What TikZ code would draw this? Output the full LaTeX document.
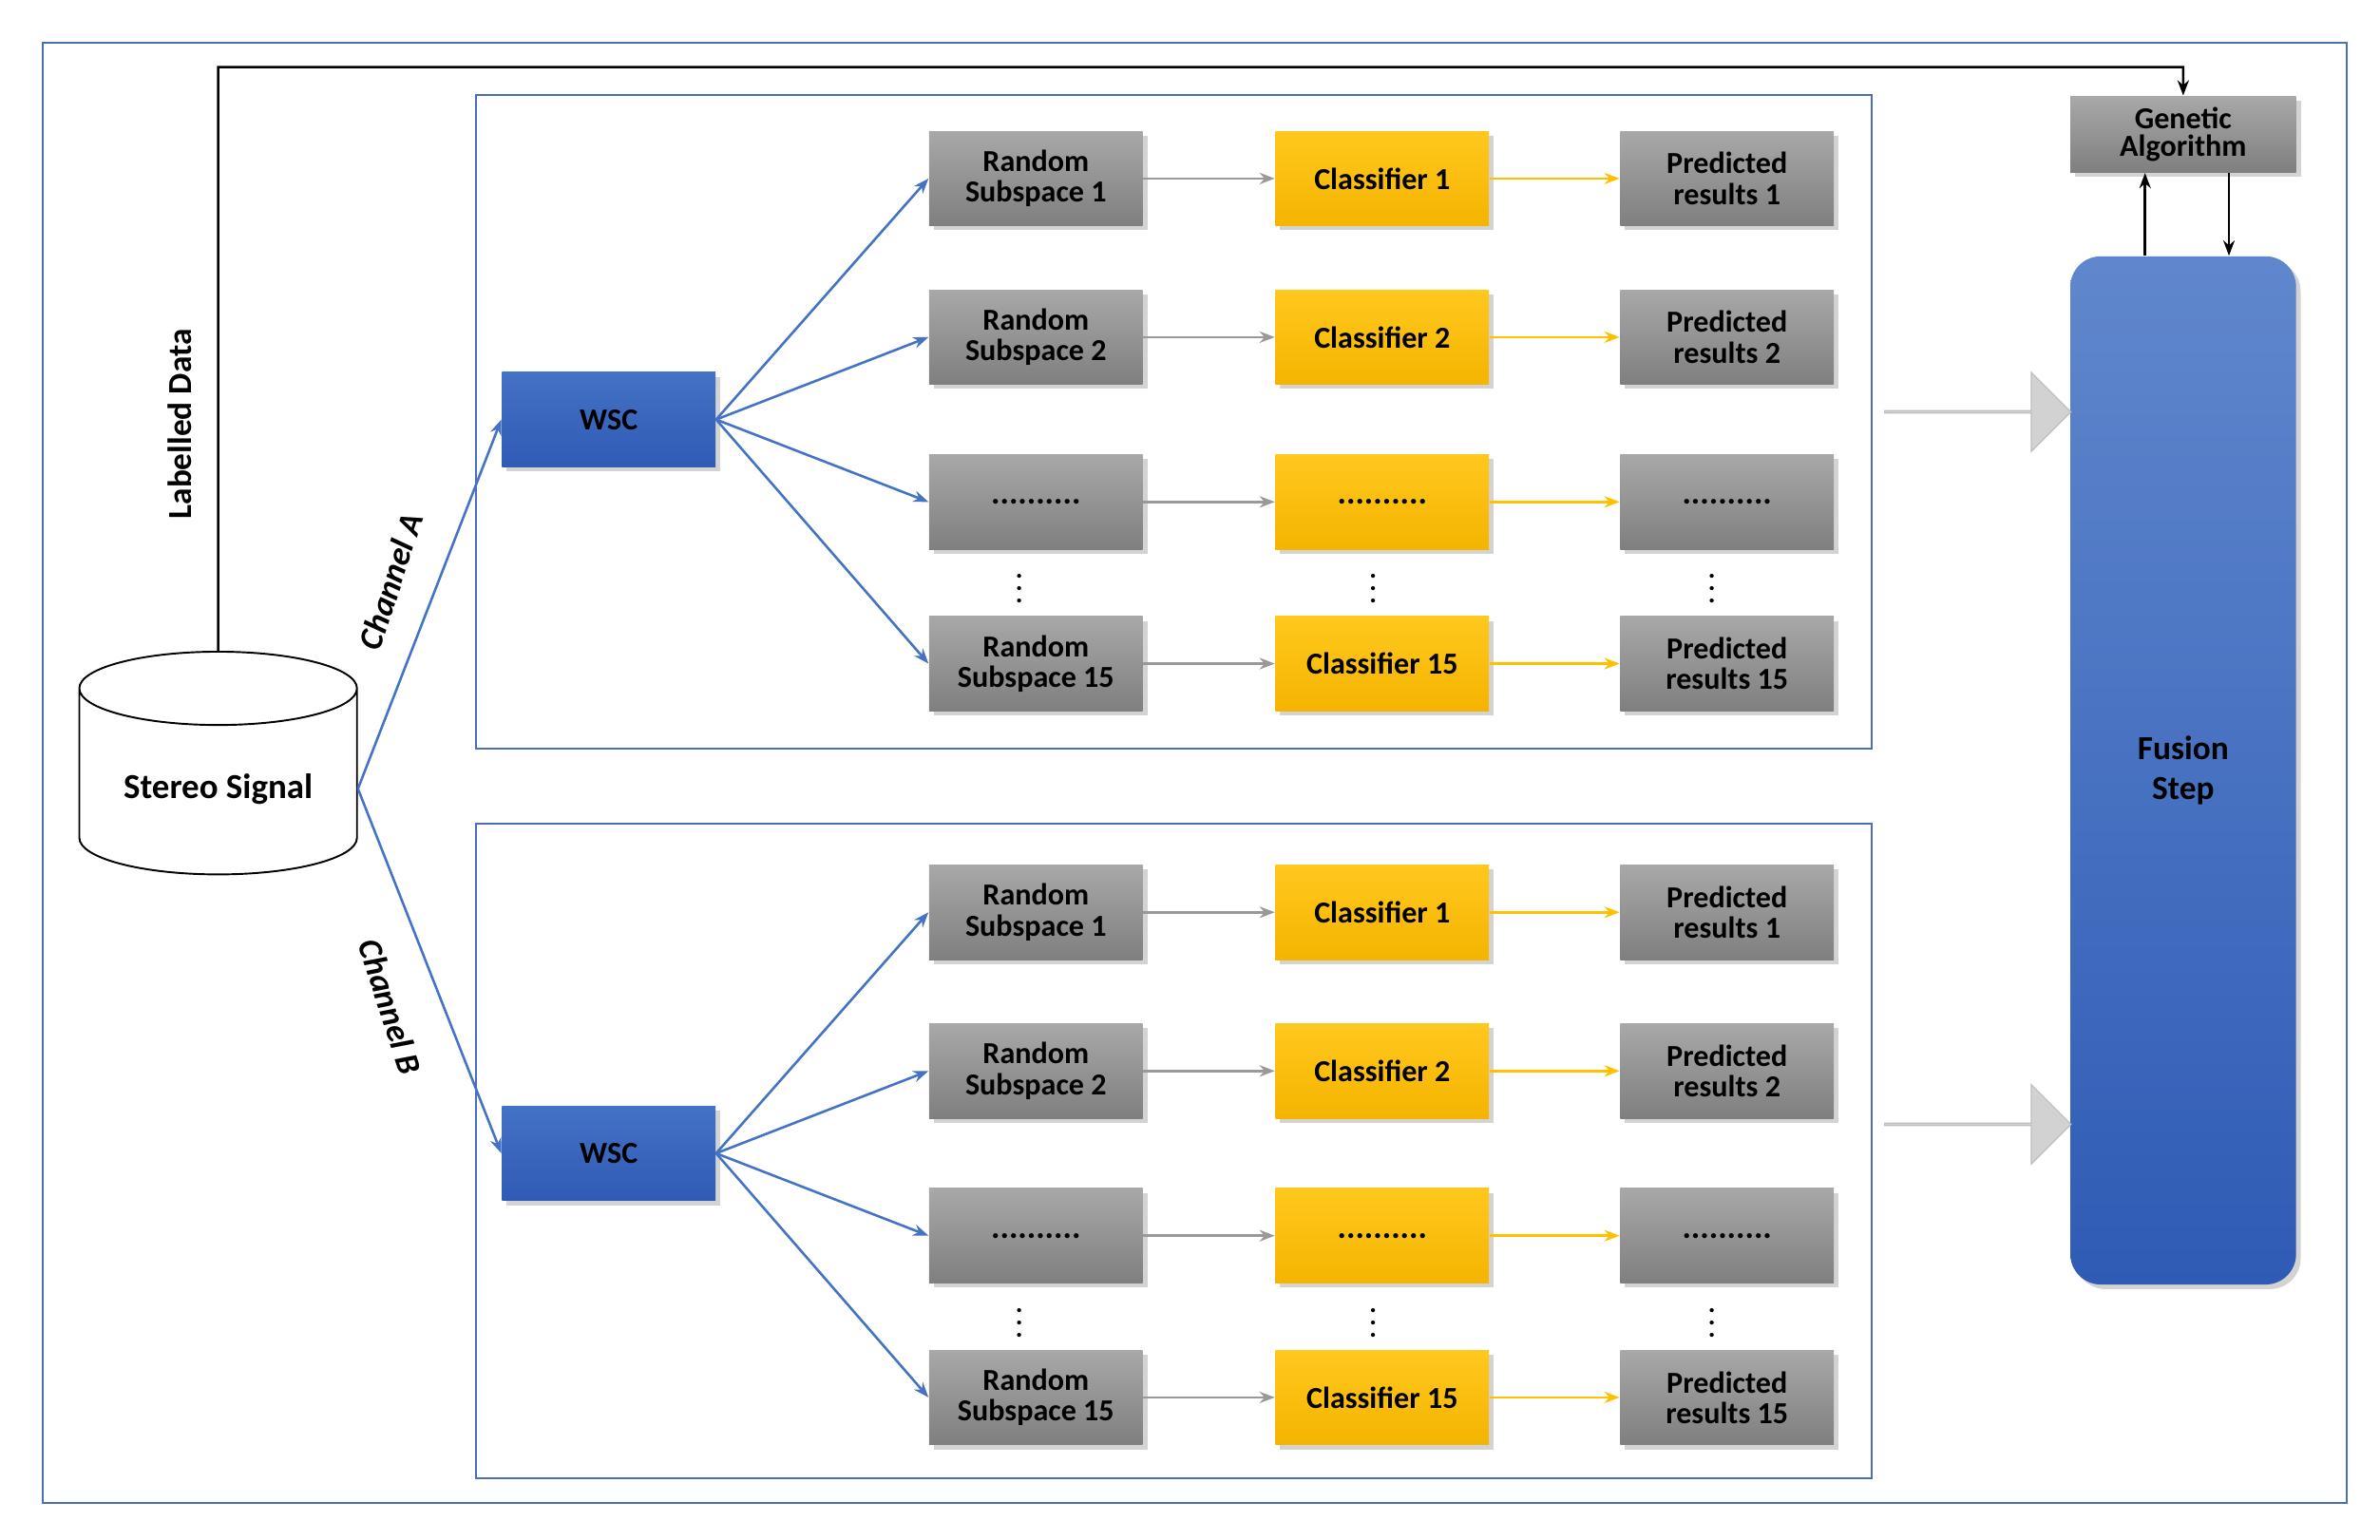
\documentclass[tikz,border=0pt]{standalone}
\usepackage{fontspec}
\setmainfont{Carlito}
\usetikzlibrary{shapes.geometric,arrows.meta,shadows,shapes.arrows}
\definecolor{frameblue}{HTML}{4A6FB5}
\definecolor{gtop}{HTML}{A8A8A8}
\definecolor{gbot}{HTML}{7F7F7F}
\definecolor{ytop}{HTML}{FFC81E}
\definecolor{ybot}{HTML}{F5B400}
\definecolor{btop}{HTML}{4472C4}
\definecolor{bbot}{HTML}{2F5BB5}
\definecolor{arrblue}{HTML}{4472C4}
\definecolor{arrorange}{HTML}{FFC000}
\newcommand\mydots{\textbf{\fontsize{11}{12}\selectfont ..........}}
\newcommand\myrs[1]{Random\\[-2pt]Subspace #1}
\newcommand\mypr[1]{Predicted\\[-2pt]results #1}
\begin{document}
\begin{tikzpicture}[x=0.5pt,y=-0.5pt,
 box/.style={minimum width=70pt,minimum height=31pt,inner sep=1pt,align=center,
   font=\bfseries\fontsize{10}{12}\selectfont,drop shadow={shadow xshift=1.5pt,shadow yshift=-1.5pt,opacity=0.35}},
 gbox/.style={box,top color=gtop,bottom color=gbot,text=black},
 ybox/.style={box,top color=ytop,bottom color=ybot,text=black},
 wsc/.style={box,top color=btop,bottom color=bbot,text=black},
 ba/.style={-{Stealth[length=5pt]},arrblue,line width=0.8pt},
 ga/.style={-{Stealth[length=5pt]},gray!80,line width=0.8pt},
 oa/.style={-{Stealth[length=5pt]},arrorange,line width=0.8pt},
 ka/.style={-{Stealth[length=5pt]},black,line width=0.8pt},
 lbl/.style={font=\bfseries\fontsize{11}{12}\selectfont}]
\useasboundingbox (0,0) rectangle (1560,1009);
\draw[frameblue,line width=0.7pt] (28,28) rectangle (1538,985);
\draw[frameblue,line width=0.6pt] (312,62) rectangle (1227,491);
\draw[frameblue,line width=0.6pt] (312,540) rectangle (1227,969);
% cylinder
\node[cylinder,shape border rotate=90,draw,fill=white,minimum width=91pt,minimum height=73pt,aspect=0.35,
  line width=0.6pt,font=\bfseries\fontsize{11.5}{13}\selectfont] (cyl) at (143,517) {\raisebox{-6pt}{Stereo Signal}};
\node[lbl,rotate=90] (ld) at (118,278) {Labelled Data};
% GA and fusion
\node[gbox,minimum width=74pt,minimum height=25pt] (ga) at (1431,88) {Genetic\\[-3pt]Algorithm};
\node[wsc,rounded corners=10pt,minimum width=74pt,minimum height=337pt,top color=btop!85!white,bottom color=bbot,
  font=\bfseries\fontsize{11}{13}\selectfont] (fus) at (1431,505) {Fusion\\Step};
\coordinate (ldtop) at (143,44);
\draw[ka] (cyl.north) -- (ldtop) -| (ga.north);
\draw[ka] (fus.north -| 1406,0) -- (ga.south -| 1406,0);
\draw[ka] (ga.south -| 1461,0) -- (fus.north -| 1461,0);
\foreach \y in {270,737}{
 \node[single arrow,draw=gray!50,fill=gray!35,minimum height=61pt,minimum width=26pt,single arrow head extend=6.5pt,
   single arrow head indent=0pt,inner sep=0pt] at (1296,\y) {};}
% channels
\foreach \c/\dy in {A/0,B/481}{
 \node[wsc,minimum height=31pt] (wsc\c) at (399,275+\dy) {WSC};
 \foreach \i/\yy/\r/\k/\p in {1/117/{\myrs{1}}/{Classifier 1}/{\mypr{1}},
   2/221/{\myrs{2}}/{Classifier 2}/{\mypr{2}},
   3/329/{\mydots}/{\mydots}/{\mydots},
   4/435/{\myrs{15}}/{Classifier 15}/{\mypr{15}}}{
   \node[gbox] (rs\c\i) at (679,\yy+\dy) {\r};
   \node[ybox] (cl\c\i) at (906,\yy+\dy) {\k};
   \node[gbox] (pr\c\i) at (1132,\yy+\dy) {\p};
   \draw[ba] (wsc\c.east) -- (rs\c\i.west);
   \draw[ga] (rs\c\i) -- (cl\c\i);
   \draw[oa] (cl\c\i) -- (pr\c\i);
 }
 \foreach \x in {668,900,1122}{\node[inner sep=0pt,font=\bfseries\small] at (\x,380+\dy) {$\vdots$};}
}
\draw[ba] (cyl.east) -- (wscA.west);
\draw[ba] (cyl.east) -- (wscB.west);
\node[lbl,rotate=72] at (256,381) {\itshape Channel A};
\node[lbl,rotate=-72] at (256,660) {\itshape Channel B};
\end{tikzpicture}
\end{document}
